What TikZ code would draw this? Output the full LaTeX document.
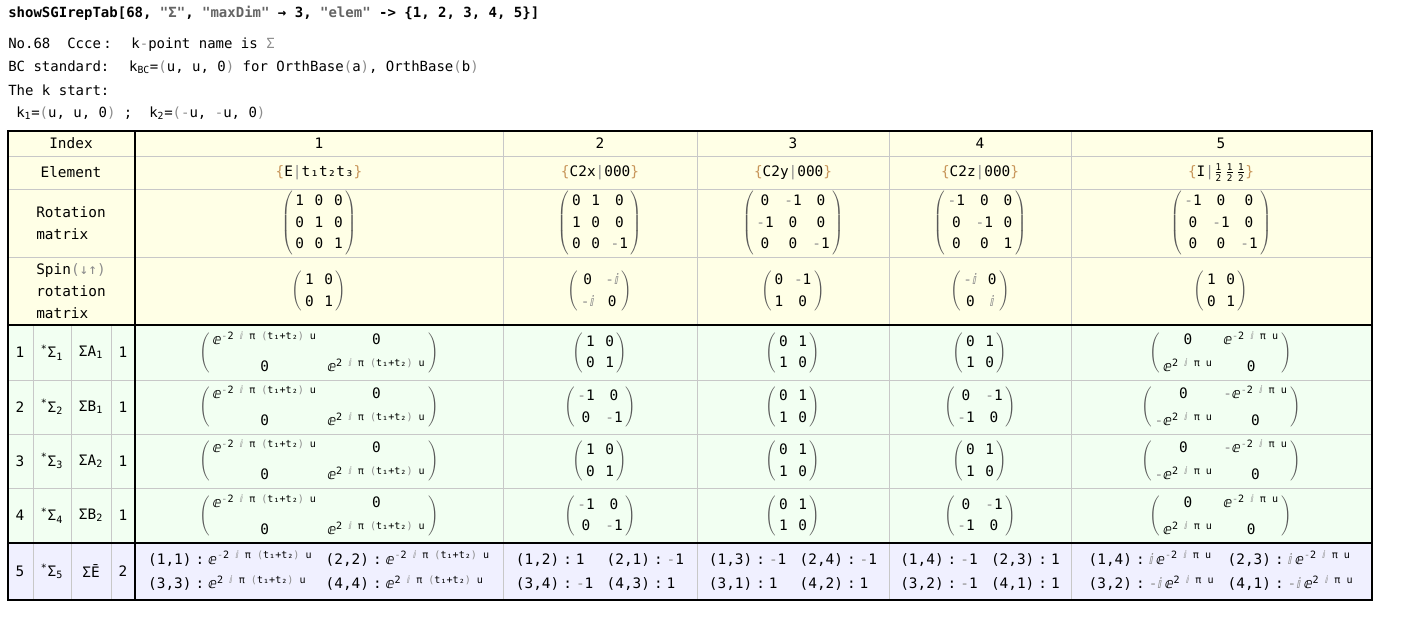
\documentclass[tikz,border=0pt]{standalone}
\usepackage{fontspec}
\setmainfont{DejaVu Sans Mono}[Ligatures=TeXOff]
\newfontfamily\dsfont{DejaVu Sans}
\usepackage{array}

\definecolor{hdrbg}{RGB}{255,255,230}
\definecolor{irbg}{RGB}{242,255,242}
\definecolor{corebg}{RGB}{240,240,255}
\definecolor{gridgray}{RGB}{200,200,200}
\definecolor{opgray}{RGB}{140,140,140}
\definecolor{strgray}{RGB}{100,100,100}
\definecolor{bracecol}{RGB}{200,150,90}
\definecolor{pargray}{RGB}{90,90,90}

\setlength{\tabcolsep}{4pt}
\newcommand{\qt}{"}
\newcommand{\mn}{\textcolor{opgray}{-}}
\newcommand{\iu}{\textcolor{opgray}{\dsfont ⅈ}}
\newcommand{\eu}{{\dsfont ⅇ}}
\newcommand{\gp}[1]{\textcolor{opgray}{#1}}
\newcommand{\cl}{\hspace{3pt}:\hspace{3pt}}
\newcommand{\eT}[1]{\eu\textsuperscript{#12 \iu{} π \gp{(}t₁+t₂\gp{)} u}}
\newcommand{\eU}[1]{\eu\textsuperscript{#12 \iu{} π u}}
\newcommand{\mtx}[3][1.24]{{\renewcommand{\arraystretch}{#1}%
  $\color{pargray}\left(\begin{tabular}{@{\hspace{2pt}}*{#2}{>{\color{black}}c}@{\hspace{2pt}}}#3\end{tabular}\right)$}}
\newcommand{\mtxe}[1]{{\renewcommand{\arraystretch}{1.55}%
  $\color{pargray}\Biggl(\begin{tabular}{@{\hspace{2pt}}*{2}{>{\color{black}}c}@{\hspace{2pt}}}#1\end{tabular}\Biggr)$}}
\newcommand{\elem}[2]{\textcolor{bracecol}{\{}#1\textcolor{opgray}{|}#2\textcolor{bracecol}{\}}}
\newcommand{\hf}{$\frac{\mbox{\scriptsize 1}}{\mbox{\scriptsize 2}}$}
\newcommand{\core}[4]{{\renewcommand{\arraystretch}{1.44}\setlength{\tabcolsep}{5pt}%
  \begin{tabular}{@{}ll@{}}#1 & #2\\ #3 & #4\end{tabular}}}

\begin{document}
\begin{tikzpicture}[x=0.75pt, y=-0.75pt, font=\fontsize{10.8}{13}\selectfont,
    cell/.style={inner sep=0pt},
    top line/.style={inner sep=0pt, anchor=west, font=\fontsize{10.5}{13}\selectfont},
    label cell/.style={inner sep=0pt, align=left, font=\fontsize{10.8}{16.5}\selectfont},
    thin grid/.style={gridgray, line width=0.75pt},
    thick rule/.style={black, line width=1.8pt}]
    \useasboundingbox (0,0) rectangle (1401,625);

    % Draw call and k-point text
    \node[top line, font=\fontsize{10.5}{13}\selectfont\bfseries] (call) at (8,13) {showSGIrepTab[68, \textcolor{strgray}{\qt Σ\qt}, \textcolor{strgray}{\qt maxDim\qt} → 3, \textcolor{strgray}{\qt elem\qt} -> \{1, 2, 3, 4, 5\}]};
    \node[top line] (kname) at (8,45) {No.68~ Ccce\,:~ k\gp{-}point name is \gp{Σ}};
    \node[top line] (bcstd) at (8,67) {BC standard:~ k\textsubscript{BC}=\gp{(}u, u, 0\gp{)} for OrthBase\gp{(}a\gp{)}, OrthBase\gp{(}b\gp{)}};
    \node[top line] (kstart) at (8,90) {The k start:};
    \node[top line] (kvec) at (16,113) {k\textsubscript{1}=\gp{(}u, u, 0\gp{)} ;~ k\textsubscript{2}=\gp{(}\mn u, \mn u, 0\gp{)}};

    % Fill table backgrounds
    \fill[hdrbg] (8,131) rectangle (1372,325);
    \fill[irbg] (8,325) rectangle (1372,543);
    \fill[corebg] (8,543) rectangle (1372,600);

    % Draw grid lines
    \foreach \y in {156,189,257,380,434,488}
        \draw[thin grid] (8,\y) -- (1372,\y);
    \foreach \x in {503,697,889,1071}
        \draw[thin grid] (\x,131) -- (\x,600);
    \foreach \x in {33,71,111}
        \draw[thin grid] (\x,325) -- (\x,600);

    % Draw thick rules
    \draw[thick rule] (8,131) rectangle (1372,600);
    \draw[thick rule] (135,131) -- (135,600);
    \draw[thick rule] (8,325) -- (1372,325);
    \draw[thick rule] (8,543) -- (1372,543);

    % Header labels
    \node[cell] (hIndex) at (71,143.5) {Index};
    \node[cell] (hElem) at (71,172.5) {Element};
    \node[label cell] (hRot) at (71,223) {Rotation\\matrix};
    \node[label cell] (hSpin) at (71,291) {Spin\gp{(↓↑)}\\rotation\\matrix};

    % Header cells
    \foreach \i/\x in {1/319,2/600,3/793,4/980,5/1221}
        \node[cell] (idx\i) at (\x,143.5) {\i};
    \node[cell] (el1) at (319,172.5) {\elem{E}{t₁t₂t₃}};
    \node[cell] (el2) at (600,172.5) {\elem{C2x}{000}};
    \node[cell] (el3) at (793,172.5) {\elem{C2y}{000}};
    \node[cell] (el4) at (980,172.5) {\elem{C2z}{000}};
    \node[cell] (el5) at (1221,172.5) {\elem{I}{\hf\,\hf\,\hf}};

    \node[cell] (rot1) at (319,223) {\mtx{3}{1&0&0\\0&1&0\\0&0&1}};
    \node[cell] (rot2) at (600,223) {\mtx{3}{0&1&0\\1&0&0\\0&0&\mn1}};
    \node[cell] (rot3) at (793,223) {\mtx{3}{0&\mn1&0\\\mn1&0&0\\0&0&\mn1}};
    \node[cell] (rot4) at (980,223) {\mtx{3}{\mn1&0&0\\0&\mn1&0\\0&0&1}};
    \node[cell] (rot5) at (1221,223) {\mtx{3}{\mn1&0&0\\0&\mn1&0\\0&0&\mn1}};

    \node[cell] (spin1) at (319,291) {\mtx{2}{1&0\\0&1}};
    \node[cell] (spin2) at (600,291) {\mtx{2}{0&\mn\iu\\\mn\iu&0}};
    \node[cell] (spin3) at (793,291) {\mtx{2}{0&\mn1\\1&0}};
    \node[cell] (spin4) at (980,291) {\mtx{2}{\mn\iu&0\\0&\iu}};
    \node[cell] (spin5) at (1221,291) {\mtx{2}{1&0\\0&1}};

    % Irrep rows 1-4
    \foreach \r/\y/\lab/\k in {1/352.5/A/1, 2/407/B/1, 3/461/A/2, 4/515.5/B/2} {
        \node[cell] (no\r) at (20,\y) {\r};
        \node[cell] (ir\r) at (52,\y) {\textsuperscript{*}Σ\textsubscript{\r}};
        \node[cell] (bc\r) at (91,\y) {Σ\lab\textsubscript{\k}};
        \node[cell] (dim\r) at (123,\y) {1};
        \node[cell] (m\r-1) at (319,\y) {\mtxe{\eT{\mn}&0\\0&\eT{}}};
        \node[cell] (m\r-3) at (793,\y) {\mtx{2}{0&1\\1&0}};
    }
    \foreach \r/\y in {1/352.5,3/461} {
        \node[cell] (m\r-2) at (600,\y) {\mtx{2}{1&0\\0&1}};
        \node[cell] (m\r-4) at (980,\y) {\mtx{2}{0&1\\1&0}};
    }
    \foreach \r/\y in {2/407,4/515.5} {
        \node[cell] (m\r-2) at (600,\y) {\mtx{2}{\mn1&0\\0&\mn1}};
        \node[cell] (m\r-4) at (980,\y) {\mtx{2}{0&\mn1\\\mn1&0}};
    }
    \foreach \r/\y in {1/352.5,4/515.5}
        \node[cell] (m\r-5) at (1221,\y) {\mtxe{0&\eU{\mn}\\\eU{}&0}};
    \foreach \r/\y in {2/407,3/461}
        \node[cell] (m\r-5) at (1221,\y) {\mtxe{0&\mn\eU{\mn}\\\mn\eU{}&0}};

    % Irrep row 5
    \node[cell] (no5) at (20,571.5) {5};
    \node[cell] (ir5) at (52,571.5) {\textsuperscript{*}Σ\textsubscript{5}};
    \node[cell] (bc5) at (91,571.5) {ΣĒ};
    \node[cell] (dim5) at (123,571.5) {2};
    \node[cell] (c5-1) at (319,571.5) {\core{(1,1)\cl\eT{\mn}}{(2,2)\cl\eT{\mn}}{(3,3)\cl\eT{}}{(4,4)\cl\eT{}}};
    \node[cell] (c5-2) at (600,571.5) {\core{(1,2)\cl 1}{(2,1)\cl\mn1}{(3,4)\cl\mn1}{(4,3)\cl 1}};
    \node[cell] (c5-3) at (793,571.5) {\core{(1,3)\cl\mn1}{(2,4)\cl\mn1}{(3,1)\cl 1}{(4,2)\cl 1}};
    \node[cell] (c5-4) at (980,571.5) {\core{(1,4)\cl\mn1}{(2,3)\cl 1}{(3,2)\cl\mn1}{(4,1)\cl 1}};
    \node[cell] (c5-5) at (1221,571.5) {\core{(1,4)\cl\iu\,\eU{\mn}}{(2,3)\cl\iu\,\eU{\mn}}{(3,2)\cl\mn\iu\,\eU{}}{(4,1)\cl\mn\iu\,\eU{}}};
\end{tikzpicture}
\end{document}
